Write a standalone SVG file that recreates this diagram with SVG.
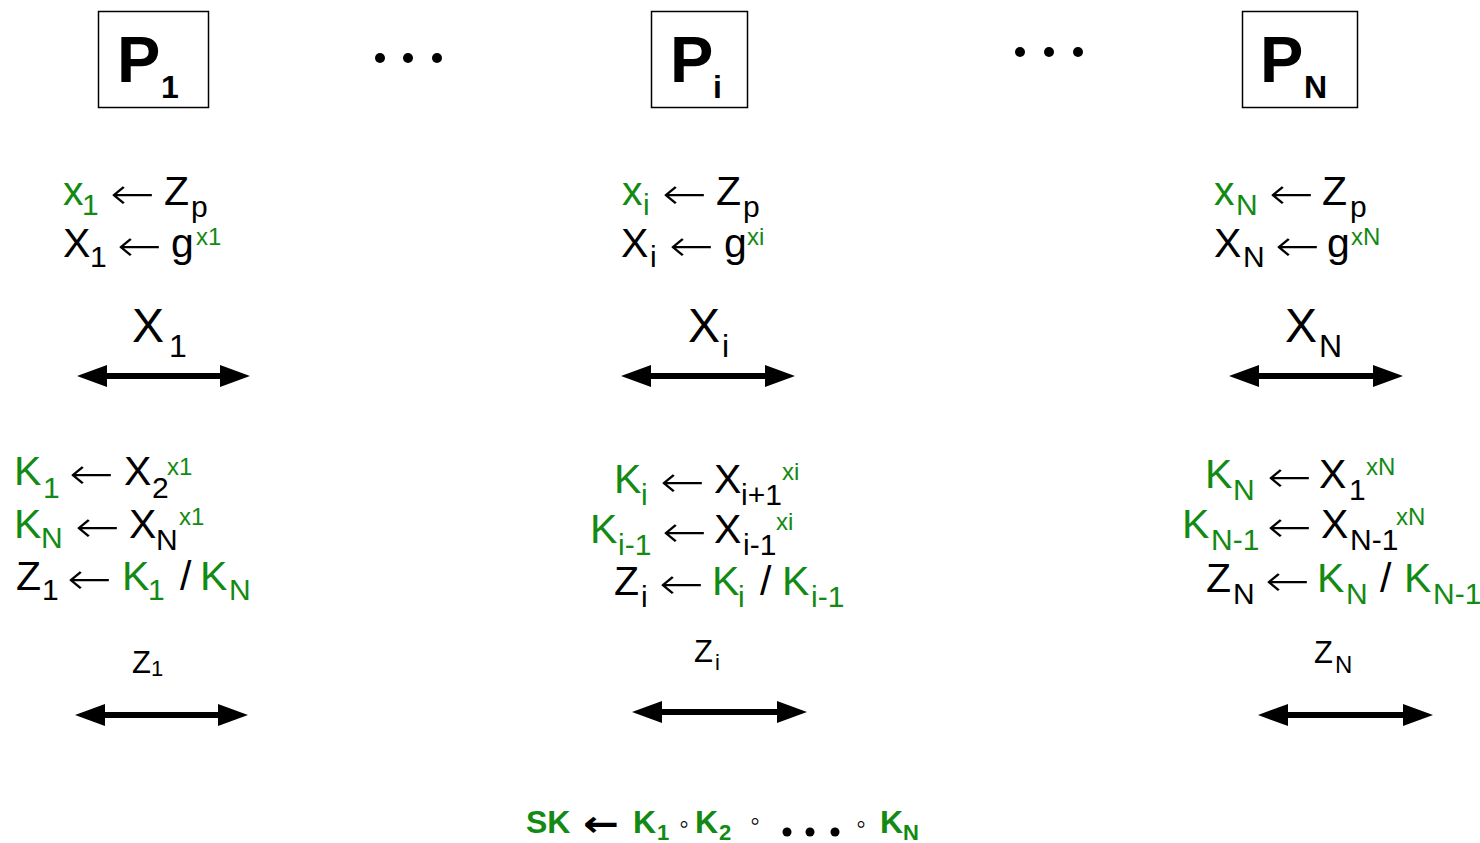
<svg xmlns="http://www.w3.org/2000/svg" width="1480" height="843" viewBox="0 0 1480 843">
<style>
text{font-family:"Liberation Sans",Arial,sans-serif;fill:#000}
.m{font-size:41px}
.s{font-size:30px}
.u{font-size:24px}
.g{fill:#138a13}
.b{font-weight:bold}
.ar{font-family:"DejaVu Sans",sans-serif;font-size:44px;font-weight:200}
.box{fill:#fff;stroke:#000;stroke-width:1.5}
.conn line{stroke:#000;stroke-width:6}
</style>
<defs>
<marker id="ah" markerUnits="userSpaceOnUse" markerWidth="30" markerHeight="22" viewBox="0 0 30 22" refX="10" refY="11" orient="auto-start-reverse">
<path d="M0,0 L30,11 L0,22 z" fill="#000"/>
</marker>
</defs>
<rect width="1480" height="843" fill="#fff"/>

<g id="P1">
<rect class="box" x="98.5" y="11.5" width="110" height="96"/>
<text class="b" style="font-size:65px"><tspan x="117" y="82">P</tspan><tspan x="161" y="98" style="font-size:32px">1</tspan></text>
</g>
<g id="Pi">
<rect class="box" x="651.5" y="11.5" width="96" height="96"/>
<text class="b" style="font-size:65px"><tspan x="670" y="82">P</tspan><tspan x="713" y="98" style="font-size:32px">i</tspan></text>
</g>
<g id="PN">
<rect class="box" x="1242.5" y="11.5" width="115" height="96"/>
<text class="b" style="font-size:65px"><tspan x="1260" y="82">P</tspan><tspan x="1304" y="98" style="font-size:32px">N</tspan></text>
</g>

<g id="dots1">
<circle cx="380" cy="58" r="5"/><circle cx="408" cy="58" r="5"/><circle cx="437" cy="58" r="5"/>
</g>
<g id="dots2">
<circle cx="1020" cy="52" r="5"/><circle cx="1049" cy="52" r="5"/><circle cx="1078" cy="52" r="5"/>
</g>

<g id="keygen1">
<text class="m"><tspan class="g" x="63" y="205">x</tspan><tspan class="s g" x="82" y="215">1</tspan><tspan x="164" y="205">Z</tspan><tspan class="s" x="191" y="217">p</tspan></text>
<text class="ar" x="110" y="209" textLength="45" lengthAdjust="spacingAndGlyphs">←</text>
<text class="m"><tspan x="63" y="257">X</tspan><tspan class="s" x="90" y="267">1</tspan><tspan x="171" y="257">g</tspan><tspan class="u g" x="196" y="245">x1</tspan></text>
<text class="ar" x="117" y="261" textLength="45" lengthAdjust="spacingAndGlyphs">←</text>
</g>
<g id="keygeni">
<text class="m"><tspan class="g" x="622" y="205">x</tspan><tspan class="s g" x="643" y="215">i</tspan><tspan x="716" y="205">Z</tspan><tspan class="s" x="743" y="217">p</tspan></text>
<text class="ar" x="662" y="209" textLength="45" lengthAdjust="spacingAndGlyphs">←</text>
<text class="m"><tspan x="621" y="257">X</tspan><tspan class="s" x="650" y="267">i</tspan><tspan x="724" y="257">g</tspan><tspan class="u g" x="747" y="245">xi</tspan></text>
<text class="ar" x="669" y="261" textLength="45" lengthAdjust="spacingAndGlyphs">←</text>
</g>
<g id="keygenN">
<text class="m"><tspan class="g" x="1214" y="205">x</tspan><tspan class="s g" x="1236" y="215">N</tspan><tspan x="1322" y="205">Z</tspan><tspan class="s" x="1350" y="217">p</tspan></text>
<text class="ar" x="1269" y="209" textLength="45" lengthAdjust="spacingAndGlyphs">←</text>
<text class="m"><tspan x="1214" y="257">X</tspan><tspan class="s" x="1243" y="267">N</tspan><tspan x="1327" y="257">g</tspan><tspan class="u g" x="1351" y="245">xN</tspan></text>
<text class="ar" x="1275" y="261" textLength="45" lengthAdjust="spacingAndGlyphs">←</text>
</g>

<g id="labelX1"><text style="font-size:48px"><tspan x="132" y="342">X</tspan><tspan x="169" y="357" style="font-size:32px">1</tspan></text></g>
<g id="labelXi"><text style="font-size:48px"><tspan x="688" y="342">X</tspan><tspan x="722" y="357" style="font-size:32px">i</tspan></text></g>
<g id="labelXN"><text style="font-size:48px"><tspan x="1285" y="342">X</tspan><tspan x="1319" y="357" style="font-size:32px">N</tspan></text></g>

<g id="compute1">
<text class="m"><tspan class="g" x="14" y="485">K</tspan><tspan class="s g" x="43" y="498">1</tspan><tspan x="124" y="485">X</tspan><tspan class="s" x="152" y="498">2</tspan><tspan class="u g" x="167" y="475">x1</tspan></text>
<text class="ar" x="69" y="489" textLength="45" lengthAdjust="spacingAndGlyphs">←</text>
<text class="m"><tspan class="g" x="14" y="538">K</tspan><tspan class="s g" x="41" y="548">N</tspan><tspan x="129" y="538">X</tspan><tspan class="s" x="156" y="550">N</tspan><tspan class="u g" x="179" y="525">x1</tspan></text>
<text class="ar" x="75" y="542" textLength="45" lengthAdjust="spacingAndGlyphs">←</text>
<text class="m"><tspan x="16" y="590">Z</tspan><tspan class="s" x="42" y="600">1</tspan><tspan class="g" x="122" y="590">K</tspan><tspan class="s g" x="148" y="600">1</tspan><tspan x="180" y="590">/</tspan><tspan class="g" x="200" y="590">K</tspan><tspan class="s g" x="229" y="600">N</tspan></text>
<text class="ar" x="67" y="594" textLength="45" lengthAdjust="spacingAndGlyphs">←</text>
</g>
<g id="computei">
<text class="m"><tspan class="g" x="614" y="493">K</tspan><tspan class="s g" x="641" y="505">i</tspan><tspan x="714" y="493">X</tspan><tspan class="s" x="741" y="505">i+1</tspan><tspan class="u g" x="782" y="480">xi</tspan></text>
<text class="ar" x="660" y="497" textLength="45" lengthAdjust="spacingAndGlyphs">←</text>
<text class="m"><tspan class="g" x="590" y="543">K</tspan><tspan class="s g" x="618" y="555">i-1</tspan><tspan x="714" y="543">X</tspan><tspan class="s" x="743" y="555">i-1</tspan><tspan class="u g" x="776" y="530">xi</tspan></text>
<text class="ar" x="662" y="547" textLength="45" lengthAdjust="spacingAndGlyphs">←</text>
<text class="m"><tspan x="614" y="595">Z</tspan><tspan class="s" x="641" y="607">i</tspan><tspan class="g" x="712" y="595">K</tspan><tspan class="s g" x="738" y="607">i</tspan><tspan x="760" y="595">/</tspan><tspan class="g" x="782" y="595">K</tspan><tspan class="s g" x="811" y="607">i-1</tspan></text>
<text class="ar" x="659" y="599" textLength="45" lengthAdjust="spacingAndGlyphs">←</text>
</g>
<g id="computeN">
<text class="m"><tspan class="g" x="1205" y="488">K</tspan><tspan class="s g" x="1233" y="500">N</tspan><tspan x="1319" y="488">X</tspan><tspan class="s" x="1349" y="500">1</tspan><tspan class="u g" x="1366" y="475">xN</tspan></text>
<text class="ar" x="1267" y="492" textLength="45" lengthAdjust="spacingAndGlyphs">←</text>
<text class="m"><tspan class="g" x="1182" y="538">K</tspan><tspan class="s g" x="1211" y="550">N-1</tspan><tspan x="1321" y="538">X</tspan><tspan class="s" x="1350" y="550">N-1</tspan><tspan class="u g" x="1396" y="525">xN</tspan></text>
<text class="ar" x="1267" y="542" textLength="45" lengthAdjust="spacingAndGlyphs">←</text>
<text class="m"><tspan x="1206" y="592">Z</tspan><tspan class="s" x="1233" y="604">N</tspan><tspan class="g" x="1317" y="592">K</tspan><tspan class="s g" x="1346" y="604">N</tspan><tspan x="1380" y="592">/</tspan><tspan class="g" x="1404" y="592">K</tspan><tspan class="s g" x="1433" y="604">N-1</tspan></text>
<text class="ar" x="1265" y="596" textLength="45" lengthAdjust="spacingAndGlyphs">←</text>
</g>

<g id="labelZ1"><text style="font-size:31px"><tspan x="132" y="673">Z</tspan><tspan x="151" y="676" style="font-size:22px">1</tspan></text></g>
<g id="labelZi"><text style="font-size:31px"><tspan x="694" y="662">Z</tspan><tspan x="715" y="670" style="font-size:22px">i</tspan></text></g>
<g id="labelZN"><text style="font-size:31px"><tspan x="1314" y="663">Z</tspan><tspan x="1335" y="673" style="font-size:24px">N</tspan></text></g>

<g class="conn" id="connectors">
<line x1="97" y1="376" x2="230" y2="376" marker-start="url(#ah)" marker-end="url(#ah)"/>
<line x1="641" y1="376" x2="775" y2="376" marker-start="url(#ah)" marker-end="url(#ah)"/>
<line x1="1249" y1="376" x2="1383" y2="376" marker-start="url(#ah)" marker-end="url(#ah)"/>
<line x1="95" y1="715" x2="228" y2="715" marker-start="url(#ah)" marker-end="url(#ah)"/>
<line x1="652" y1="712" x2="787" y2="712" marker-start="url(#ah)" marker-end="url(#ah)"/>
<line x1="1278" y1="715" x2="1413" y2="715" marker-start="url(#ah)" marker-end="url(#ah)"/>
</g>

<g id="sessionkey">
<text class="b" style="font-size:32px"><tspan class="g" x="526" y="833">SK</tspan><tspan class="g" x="633" y="833">K</tspan><tspan class="g" x="657" y="840" style="font-size:22px">1</tspan></text>
<text class="ar" x="583" y="836" style="font-size:36px;font-weight:bold" textLength="36" lengthAdjust="spacingAndGlyphs">←</text>
<text class="b" style="font-size:32px"><tspan class="g" x="695" y="833">K</tspan><tspan class="g" x="719" y="840" style="font-size:22px">2</tspan></text>
<text class="b" style="font-size:32px"><tspan class="g" x="880" y="833">K</tspan><tspan class="g" x="903" y="840" style="font-size:22px">N</tspan></text>
<text style="font-size:28px"><tspan x="679" y="833">◦</tspan><tspan x="750" y="830">◦</tspan><tspan x="856" y="833">◦</tspan></text>
<circle cx="787" cy="832" r="4.5"/><circle cx="810" cy="832" r="4.5"/><circle cx="835" cy="832" r="4.5"/>
</g>
</svg>
